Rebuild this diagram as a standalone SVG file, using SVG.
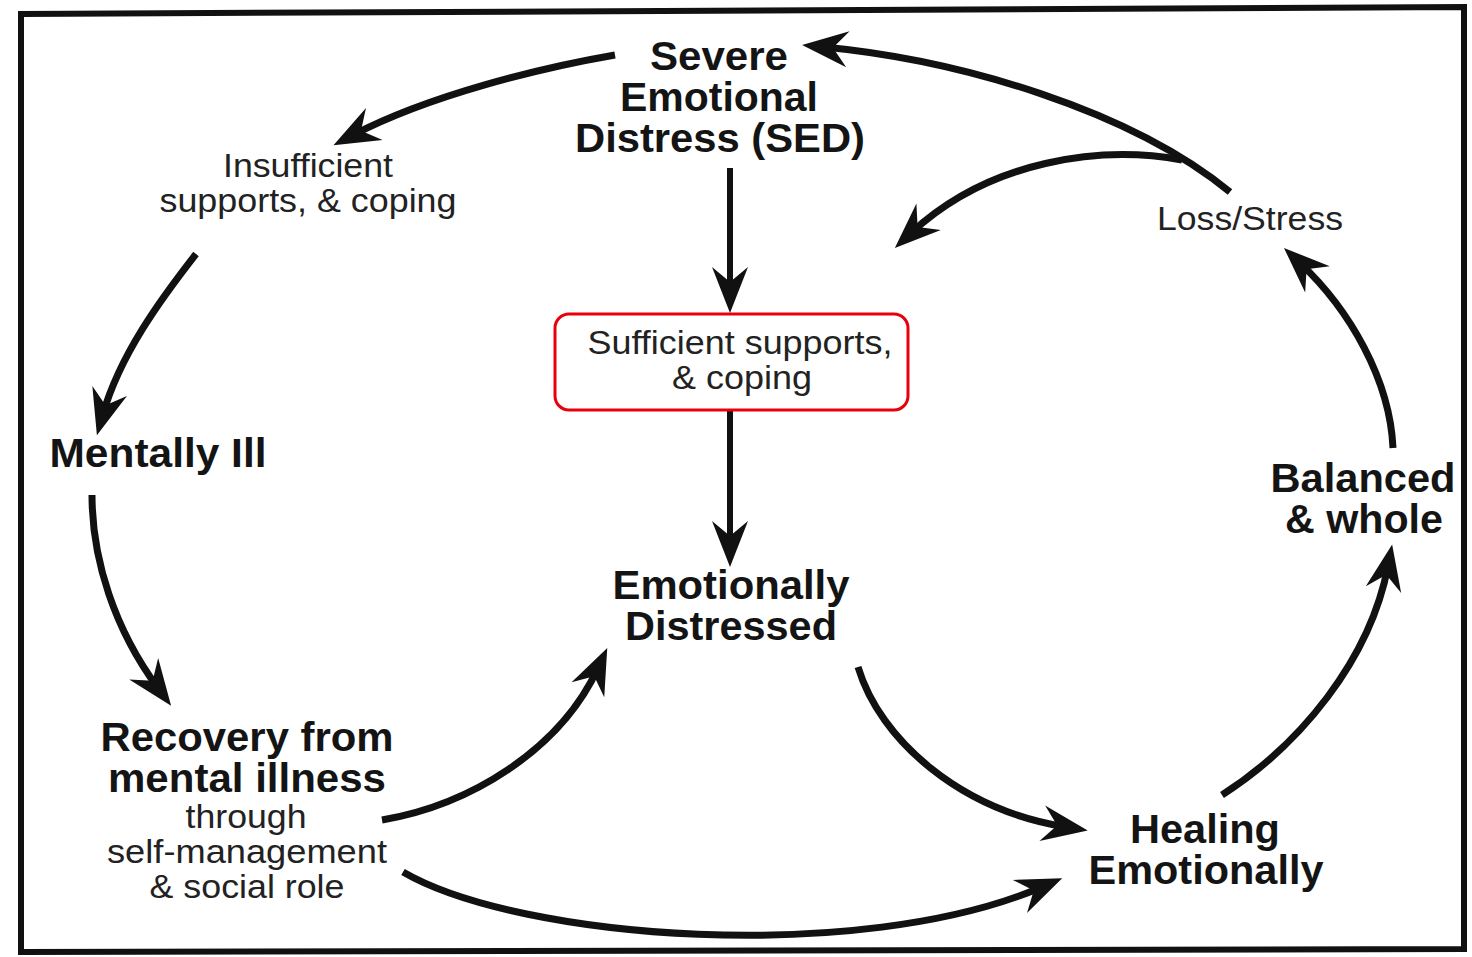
<svg xmlns="http://www.w3.org/2000/svg" width="1472" height="957" viewBox="0 0 1472 957">
  <style>
    .frame { fill: none; stroke: #111; stroke-width: 6; stroke-linejoin: miter; }
    text { font-family: "Liberation Sans", Arial, sans-serif; text-anchor: middle; }
    .head { font-weight: bold; font-size: 40px; fill: #141414; }
    .note { font-weight: normal; font-size: 34px; fill: #222; }
    .link { fill: none; stroke: #111; stroke-width: 7; stroke-linecap: butt; }
    .straight { stroke-width: 6; }
    .box { fill: none; stroke: #e8000b; stroke-width: 3; }
  </style>
  <defs>
    <!-- barbed arrowhead; its tip sits 22px beyond the end of the line -->
    <marker id="arrow" markerUnits="userSpaceOnUse" viewBox="-30 -22 56 44" markerWidth="56" markerHeight="44" refX="0" refY="0" orient="auto" overflow="visible">
      <path d="M 22 0 L -24 -18 L -9 0 L -24 18 Z" fill="#111"/>
    </marker>
  </defs>

  <rect width="1472" height="957" fill="#fff"/>
  <path class="frame" d="M21,14 L1464,7 L1464,949 L21,952 Z"/>

  <!-- connectors -->
  <g id="connectors">
    <path class="link" d="M615,55 C540,68 430,95 353,135" marker-end="url(#arrow)"/>
    <path class="link" d="M196,254 C160,300 120,355 103,414" marker-end="url(#arrow)"/>
    <path class="link" d="M92,495 C92,560 115,630 158,688" marker-end="url(#arrow)"/>
    <path class="link" d="M382,820 C470,805 560,750 598,668" marker-end="url(#arrow)"/>
    <path class="link" d="M403,872 C520,940 860,965 1042,887" marker-end="url(#arrow)"/>
    <path class="link" d="M858,667 C880,740 960,810 1066,827" marker-end="url(#arrow)"/>
    <path class="link" d="M1222,795 C1300,745 1370,660 1388,566" marker-end="url(#arrow)"/>
    <path class="link" d="M1393,448 C1390,380 1350,310 1300,263" marker-end="url(#arrow)"/>
    <path class="link" d="M1230,192 C1130,110 960,60 824,47" marker-end="url(#arrow)"/>
    <path class="link" d="M1182,160 C1100,145 990,160 911,233" marker-end="url(#arrow)"/>
    <path class="link straight" d="M730,168 L730,291" marker-end="url(#arrow)"/>
    <path class="link straight" d="M730,410 L730,545" marker-end="url(#arrow)"/>
  </g>

  <g id="sed">
    <text class="head" x="719" y="70" textLength="138" lengthAdjust="spacingAndGlyphs">Severe</text>
    <text class="head" x="719" y="111" textLength="198" lengthAdjust="spacingAndGlyphs">Emotional</text>
    <text class="head" x="720" y="152" textLength="290" lengthAdjust="spacingAndGlyphs">Distress (SED)</text>
  </g>

  <g id="insufficient">
    <text class="note" x="308" y="177" textLength="170" lengthAdjust="spacingAndGlyphs">Insufficient</text>
    <text class="note" x="308" y="212" textLength="297" lengthAdjust="spacingAndGlyphs">supports, &amp; coping</text>
  </g>

  <g id="loss-stress">
    <text class="note" x="1250" y="230" textLength="186" lengthAdjust="spacingAndGlyphs">Loss/Stress</text>
  </g>

  <g id="sufficient">
    <rect class="box" x="555" y="314" width="353" height="96" rx="14"/>
    <text class="note" x="740" y="354" textLength="305" lengthAdjust="spacingAndGlyphs">Sufficient supports,</text>
    <text class="note" x="742" y="389" textLength="140" lengthAdjust="spacingAndGlyphs">&amp; coping</text>
  </g>

  <g id="mentally-ill">
    <text class="head" x="158" y="467" textLength="217" lengthAdjust="spacingAndGlyphs">Mentally Ill</text>
  </g>

  <g id="emotionally-distressed">
    <text class="head" x="731" y="599" textLength="237" lengthAdjust="spacingAndGlyphs">Emotionally</text>
    <text class="head" x="731" y="640" textLength="212" lengthAdjust="spacingAndGlyphs">Distressed</text>
  </g>

  <g id="recovery">
    <text class="head" x="247" y="751" textLength="293" lengthAdjust="spacingAndGlyphs">Recovery from</text>
    <text class="head" x="247" y="792" textLength="278" lengthAdjust="spacingAndGlyphs">mental illness</text>
    <text class="note" x="246" y="828" textLength="121" lengthAdjust="spacingAndGlyphs">through</text>
    <text class="note" x="247" y="863" textLength="280" lengthAdjust="spacingAndGlyphs">self-management</text>
    <text class="note" x="247" y="898" textLength="195" lengthAdjust="spacingAndGlyphs">&amp; social role</text>
  </g>

  <g id="healing">
    <text class="head" x="1205" y="843" textLength="150" lengthAdjust="spacingAndGlyphs">Healing</text>
    <text class="head" x="1206" y="884" textLength="235" lengthAdjust="spacingAndGlyphs">Emotionally</text>
  </g>

  <g id="balanced">
    <text class="head" x="1363" y="492" textLength="185" lengthAdjust="spacingAndGlyphs">Balanced</text>
    <text class="head" x="1364" y="533" textLength="158" lengthAdjust="spacingAndGlyphs">&amp; whole</text>
  </g>
</svg>
